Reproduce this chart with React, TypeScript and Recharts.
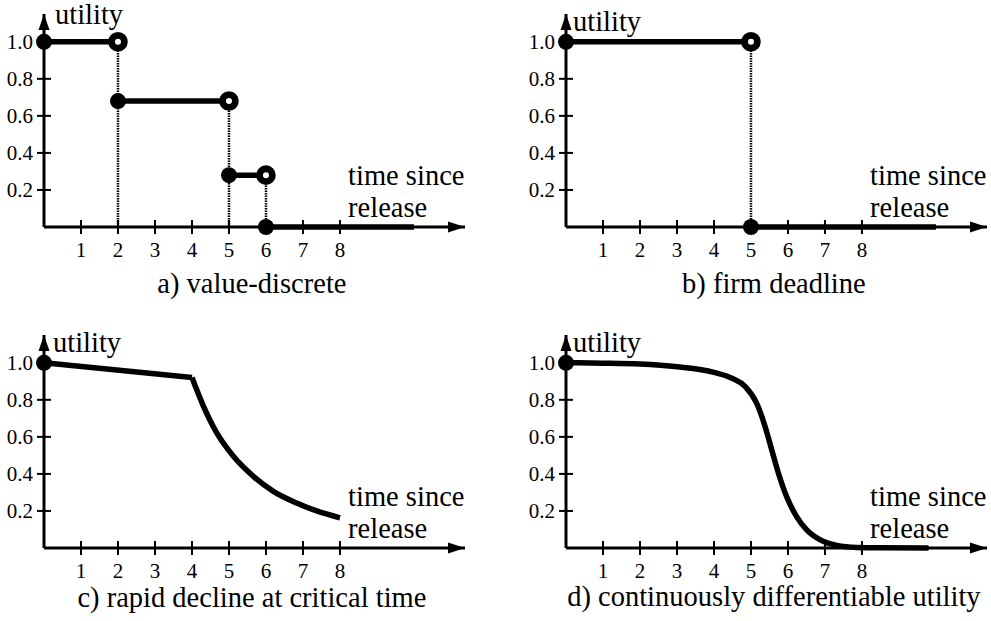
import { LineChart, Line, XAxis, YAxis, ReferenceLine, ReferenceDot } from "recharts";

const FONT = "Liberation Serif";

const timeTicks = [1, 2, 3, 4, 5, 6, 7, 8];
const utilityTicks = [0.2, 0.4, 0.6, 0.8, 1.0];

// a) value-discrete: constant levels between release and the step times
const discreteFrom = [0, 2, 5, 6];
const discreteTo = [2, 5, 6, 10];
const discreteLevel = [1.0, 0.68, 0.28, 0];

// b) firm deadline
const firmFrom = [0, 5];
const firmTo = [5, 10];
const firmLevel = [1.0, 0];

// c) rapid decline at critical time
const criticalTime = 4;
const rapidTime = [0, 4, 4.3, 4.67, 5.12, 5.66, 6.2, 6.83, 7.37, 8];
const rapidUtility = [1.0, 0.92, 0.77, 0.621, 0.495, 0.387, 0.306, 0.243, 0.2, 0.163];

// d) continuously differentiable utility
const smoothTime = [0, 1, 2, 3, 4, 4.5, 4.84, 5.15, 5.38, 5.56, 5.74, 5.96, 6.23, 6.5, 6.86, 7.32, 7.86, 8.5, 9.8];
const smoothUtility = [1.0, 0.998, 0.993, 0.978, 0.948, 0.915, 0.873, 0.783, 0.657, 0.531, 0.405, 0.279, 0.171, 0.099, 0.045, 0.014, 0.003, 0.001, 0];

const captions = [
  "a) value-discrete",
  "b) firm deadline",
  "c) rapid decline at critical time",
  "d) continuously differentiable utility",
];

const X_MAX = 11.38;
const Y_MAX = 1.15;

type Pt = { t: number; u: number; mark?: "filled" | "open" };
type Series = { data: Pt[]; curve: "linear" | "monotone" };

// step segments: filled dot where a level starts, open dot where it stops
function stepSeries(from: number[], to: number[], level: number[]): Series[] {
  return from.map((f, i) => ({
    curve: "linear",
    data: [
      { t: f, u: level[i], mark: "filled" },
      { t: to[i], u: level[i], mark: i < from.length - 1 ? "open" : undefined },
    ],
  }));
}

function stepDrops(to: number[], level: number[]) {
  return to.slice(0, -1).map((t, i) => ({ t, u: level[i] }));
}

const rapidPts = rapidTime.map((t, i) => ({ t, u: rapidUtility[i] }));
const rapidSeries: Series[] = [
  {
    curve: "linear",
    data: rapidPts.filter((p) => p.t <= criticalTime).map((p, i) => (i === 0 ? { ...p, mark: "filled" } : p)),
  },
  { curve: "monotone", data: rapidPts.filter((p) => p.t >= criticalTime) },
];

const smoothSeries: Series[] = [
  {
    curve: "monotone",
    data: smoothTime.map((t, i) => ({ t, u: smoothUtility[i], mark: i === 0 ? "filled" : undefined })),
  },
];

function PointMark(props: any) {
  const { cx, cy, payload, index } = props;
  if (payload?.mark === "open")
    return <circle key={index} cx={cx} cy={cy} r={6.4} fill="#fff" stroke="#000" strokeWidth={6.8} />;
  if (payload?.mark === "filled") return <circle key={index} cx={cx} cy={cy} r={8} fill="#000" />;
  return <g key={index} />;
}

function TimeTick(props: any) {
  const { x, y, payload } = props;
  return (
    <g>
      <line x1={x} x2={x} y1={y - 7} y2={y + 7} stroke="#000" strokeWidth={2} />
      <text x={x} y={y + 30} textAnchor="middle" fill="#000" style={{ fontFamily: FONT, fontSize: 21 }}>
        {payload.value}
      </text>
    </g>
  );
}

function UtilityTick(props: any) {
  const { x, y, payload } = props;
  return (
    <g>
      <line x1={x - 7} x2={x + 7} y1={y} y2={y} stroke="#000" strokeWidth={2} />
      <text x={x - 11} y={y + 7} textAnchor="end" fill="#000" style={{ fontFamily: FONT, fontSize: 21 }}>
        {Number(payload.value).toFixed(1)}
      </text>
    </g>
  );
}

const XArrow = ({ cx, cy }: any) => (
  <polygon points={`${cx},${cy} ${cx - 17},${cy - 5.5} ${cx - 17},${cy + 5.5}`} fill="#000" />
);

const YArrow = ({ cx, cy }: any) => (
  <polygon points={`${cx},${cy} ${cx - 5.5},${cy + 16} ${cx + 5.5},${cy + 16}`} fill="#000" />
);

const textAt = (lines: string[], dx: number, dy: number, anchor: "start" | "middle") => ({ cx, cy }: any) => (
  <text x={cx + dx} y={cy + dy} textAnchor={anchor} fill="#000" style={{ fontFamily: FONT, fontSize: 28.5 }}>
    {lines.map((l, i) => (
      <tspan key={i} x={cx + dx} dy={i === 0 ? 0 : 32}>
        {l}
      </tspan>
    ))}
  </text>
);

interface PanelProps {
  left: number;
  top: number;
  caption: string;
  captionDy: number;
  utilityDx: number;
  utilityDy: number;
  series: Series[];
  drops: { t: number; u: number }[];
}

function Panel({ left, top, caption, captionDy, utilityDx, utilityDy, series, drops }: PanelProps) {
  const axisLine = { stroke: "#000", strokeWidth: 3 };
  return (
    <div style={{ position: "absolute", left, top, fontFamily: FONT }}>
      <LineChart width={469} height={300} margin={{ top: 14, right: 4, bottom: 33, left: 0 }}>
        <XAxis
          type="number"
          dataKey="t"
          domain={[0, X_MAX]}
          ticks={timeTicks}
          interval={0}
          height={40}
          tickSize={0}
          tickMargin={0}
          tickLine={false}
          axisLine={axisLine}
          tick={(p: any) => <TimeTick {...p} />}
        />
        <YAxis
          type="number"
          dataKey="u"
          domain={[0, Y_MAX]}
          ticks={utilityTicks}
          interval={0}
          width={44}
          tickSize={0}
          tickMargin={0}
          tickLine={false}
          axisLine={axisLine}
          tick={(p: any) => <UtilityTick {...p} />}
        />
        {drops.map((d, i) => (
          <ReferenceLine
            key={`drop-${i}`}
            segment={[
              { x: d.t, y: 0 },
              { x: d.t, y: d.u },
            ]}
            stroke="#000"
            strokeWidth={2.5}
            strokeDasharray="1.5 1"
            ifOverflow="visible"
          />
        ))}
        {series.map((s, i) => (
          <Line
            key={`s-${i}`}
            data={s.data}
            dataKey="u"
            type={s.curve}
            stroke="#000"
            strokeWidth={5.5}
            dot={(p: any) => <PointMark {...p} />}
            activeDot={false}
            isAnimationActive={false}
          />
        ))}
        <ReferenceDot x={X_MAX} y={0} ifOverflow="visible" shape={XArrow} />
        <ReferenceDot x={0} y={Y_MAX} ifOverflow="visible" shape={YArrow} />
        <ReferenceDot x={0} y={1} ifOverflow="visible" shape={textAt(["utility"], utilityDx, utilityDy, "start")} />
        <ReferenceDot x={8.22} y={0} ifOverflow="visible" shape={textAt(["time since", "release"], 0, -42, "start")} />
        <ReferenceDot x={5.62} y={0} ifOverflow="visible" shape={textAt([caption], 0, captionDy, "middle")} />
      </LineChart>
    </div>
  );
}

export default function App() {
  return (
    <div style={{ position: "absolute", left: 0, top: 0, width: 991, height: 621, background: "#fff" }}>
      <Panel
        left={0}
        top={0}
        caption={captions[0]}
        captionDy={66}
        utilityDx={11}
        utilityDy={-18}
        series={stepSeries(discreteFrom, discreteTo, discreteLevel)}
        drops={stepDrops(discreteTo, discreteLevel)}
      />
      <Panel
        left={522}
        top={0}
        caption={captions[1]}
        captionDy={66}
        utilityDx={7}
        utilityDy={-11}
        series={stepSeries(firmFrom, firmTo, firmLevel)}
        drops={stepDrops(firmTo, firmLevel)}
      />
      <Panel
        left={0}
        top={321}
        caption={captions[2]}
        captionDy={59}
        utilityDx={9}
        utilityDy={-11}
        series={rapidSeries}
        drops={[]}
      />
      <Panel
        left={522}
        top={321}
        caption={captions[3]}
        captionDy={58}
        utilityDx={7}
        utilityDy={-11}
        series={smoothSeries}
        drops={[]}
      />
    </div>
  );
}
